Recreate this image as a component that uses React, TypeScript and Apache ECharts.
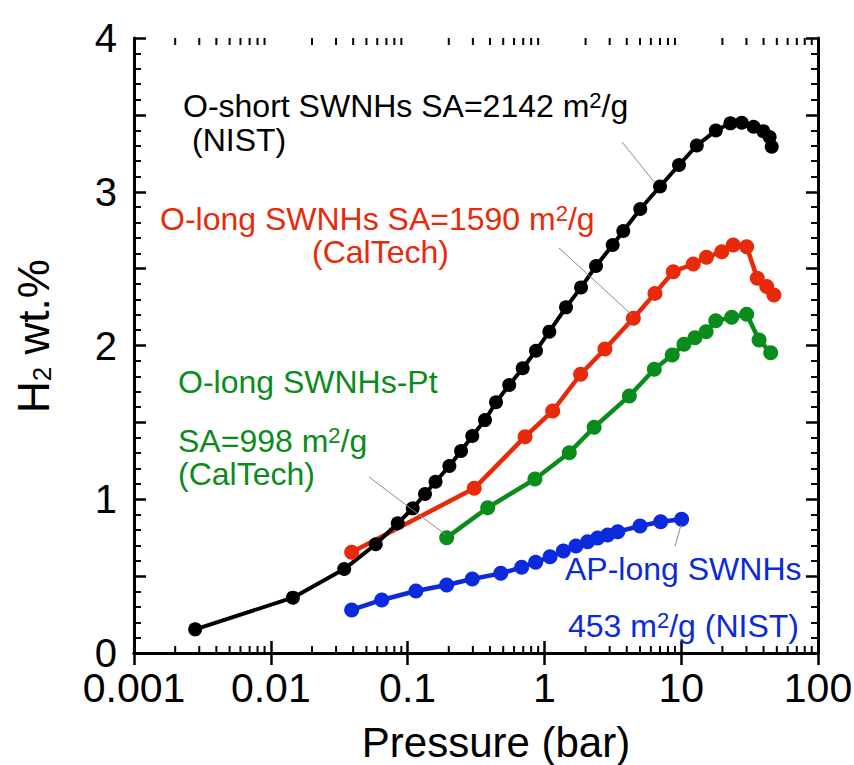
import React, { useEffect, useRef } from 'react';
import * as echarts from 'echarts';

// H2 uptake (wt.%) against pressure (bar) for four nanohorn samples
const shortPressure = [0.0028, 0.0145, 0.0344, 0.0585, 0.0847, 0.109, 0.134, 0.16, 0.202, 0.246, 0.297, 0.368, 0.443, 0.553, 0.694, 0.868, 1.086, 1.439, 1.853, 2.384, 3.157, 3.773, 5.02, 7.0, 9.64, 13.0, 17.9, 22.9, 27.7, 33.8, 39.8, 44.3, 45.9];
const shortUptake = [0.154, 0.36, 0.546, 0.707, 0.844, 0.941, 1.034, 1.114, 1.216, 1.314, 1.411, 1.515, 1.631, 1.743, 1.852, 1.966, 2.09, 2.248, 2.378, 2.517, 2.654, 2.745, 2.888, 3.034, 3.174, 3.301, 3.398, 3.445, 3.449, 3.423, 3.394, 3.356, 3.293];

const longPressure = [0.039, 0.307, 0.722, 1.15, 1.84, 2.77, 4.47, 6.43, 8.75, 12.25, 15.3, 19.8, 24.0, 30.1, 36.0, 42.2, 47.6];
const longUptake = [0.655, 1.071, 1.407, 1.574, 1.813, 1.977, 2.177, 2.339, 2.48, 2.53, 2.574, 2.61, 2.654, 2.643, 2.437, 2.383, 2.328];

const ptPressure = [0.193, 0.385, 0.853, 1.52, 2.31, 4.18, 6.36, 8.6, 10.48, 12.6, 15.2, 17.9, 23.4, 30.1, 37.1, 45.1];
const ptUptake = [0.75, 0.945, 1.132, 1.303, 1.468, 1.672, 1.845, 1.938, 2.008, 2.051, 2.09, 2.161, 2.183, 2.203, 2.036, 1.953];

const apPressure = [0.039, 0.0647, 0.115, 0.193, 0.297, 0.48, 0.682, 0.863, 1.1, 1.375, 1.7, 2.07, 2.45, 2.9, 3.44, 5.0, 7.08, 10.07];
const apUptake = [0.28, 0.345, 0.403, 0.442, 0.481, 0.518, 0.557, 0.59, 0.626, 0.663, 0.696, 0.724, 0.748, 0.767, 0.789, 0.826, 0.854, 0.87];

const xTickLabels = ['0.001', '0.01', '0.1', '1', '10', '100'];
const minorDecades = [0.001, 0.01, 0.1, 1, 10];
const minorSteps = [2, 3, 4, 5, 6, 7, 8, 9];

const FONT = '"Liberation Sans", Arial, Helvetica, sans-serif';
const BLACK = '#000000';
const RED = '#e82a0a';
const GREEN = '#0a8c1c';
const BLUE = '#0a2adc';

const zip = (xs: number[], ys: number[]) => xs.map((x, i) => [x, ys[i]]);

function annotation(x: number, y: number, text: string, color: string) {
  return {
    type: 'text',
    x,
    y,
    z: 100,
    silent: true,
    style: {
      text,
      fill: color,
      font: `32px ${FONT}`,
      verticalAlign: 'top',
      align: 'left',
      rich: {
        t: { fontSize: 32, fontFamily: FONT, fill: color, lineHeight: 32 },
        s: { fontSize: 22, fontFamily: FONT, fill: color, lineHeight: 1, verticalAlign: 'top' },
      },
    },
  };
}

function leader(x1: number, y1: number, x2: number, y2: number) {
  return {
    type: 'line',
    z: 100,
    silent: true,
    shape: { x1, y1, x2, y2 },
    style: { stroke: '#8a8a8a', lineWidth: 1 },
  };
}

export default function App() {
  const ref = useRef<HTMLDivElement>(null);

  useEffect(() => {
    if (!ref.current) return;
    const chart = echarts.init(ref.current, null, { renderer: 'svg' });

    const minorTicks = minorDecades.flatMap((d) => minorSteps.map((s) => [s * d, 1]));

    const axisLineStyle = { color: '#000', width: 3 };

    const xAxes = [0, 1].map((i) => ({
      type: 'log',
      logBase: 10,
      min: 0.001,
      max: 100,
      splitNumber: 5,
      position: i === 0 ? 'bottom' : 'top',
      axisLine: { show: true, lineStyle: axisLineStyle },
      axisTick: { show: true, inside: true, length: 12, lineStyle: { color: '#000', width: 2.5 } },
      minorTick: { show: false },
      splitLine: { show: false },
      axisLabel: {
        show: i === 0,
        margin: 19,
        fontSize: 41,
        lineHeight: 32,
        fontFamily: FONT,
        color: '#000',
        formatter: (v: number) => xTickLabels[Math.round(Math.log10(v)) + 3] ?? '',
      },
    }));

    const yAxes = [0, 1].map((i) => ({
      type: 'value',
      min: 0,
      max: 4,
      interval: 0.5,
      position: i === 0 ? 'left' : 'right',
      axisLine: { show: true, lineStyle: axisLineStyle },
      axisTick: { show: true, inside: true, length: 12, lineStyle: { color: '#000', width: 2.5 } },
      minorTick: { show: true, splitNumber: 5, length: 7, lineStyle: { color: '#000', width: 2 } },
      splitLine: { show: false },
      axisLabel: {
        show: i === 0,
        margin: 17,
        fontSize: 40,
        lineHeight: 28,
        fontFamily: FONT,
        color: '#000',
        formatter: (v: number) => (Math.abs(v - Math.round(v)) < 1e-9 ? String(Math.round(v)) : ''),
      },
    }));

    const lineSeries = (name: string, px: number[], py: number[], color: string, size: number, width: number) => ({
      name,
      type: 'line',
      xAxisIndex: 0,
      yAxisIndex: 0,
      data: zip(px, py),
      symbol: 'circle',
      symbolSize: size,
      showSymbol: true,
      itemStyle: { color },
      lineStyle: { color, width },
      z: 10,
    });

    chart.setOption({
      animation: false,
      backgroundColor: '#ffffff',
      grid: { left: 134, right: 36, top: 38, bottom: 112, containLabel: false, outerBoundsMode: 'none' },
      xAxis: xAxes,
      yAxis: yAxes,
      series: [
        {
          type: 'custom',
          xAxisIndex: 0,
          yAxisIndex: 0,
          silent: true,
          clip: false,
          data: minorTicks,
          encode: { x: 0, y: 1 },
          renderItem: (params: any, api: any) => {
            const x = api.coord([api.value(0), 1])[0];
            const cs = params.coordSys;
            const len = 7;
            const style = { stroke: '#000', lineWidth: 2 };
            return {
              type: 'group',
              children: [
                { type: 'line', shape: { x1: x, y1: cs.y + cs.height, x2: x, y2: cs.y + cs.height - len }, style },
                { type: 'line', shape: { x1: x, y1: cs.y, x2: x, y2: cs.y + len }, style },
              ],
            };
          },
        },
        lineSeries('AP-long SWNHs', apPressure, apUptake, BLUE, 15, 4.5),
        lineSeries('O-long SWNHs-Pt', ptPressure, ptUptake, GREEN, 15, 4.5),
        lineSeries('O-long SWNHs', longPressure, longUptake, RED, 15, 4.5),
        lineSeries('O-short SWNHs', shortPressure, shortUptake, BLACK, 14, 4),
      ],
      graphic: [
        annotation(183, 89.9, '{t|O-short SWNHs SA=2142 m}{s|2}{t|/g}', BLACK),
        annotation(192, 123.9, '{t|(NIST)}', BLACK),
        annotation(160, 202.9, '{t|O-long SWNHs SA=1590 m}{s|2}{t|/g}', RED),
        annotation(312, 235.5, '{t|(CalTech)}', RED),
        annotation(178, 365.9, '{t|O-long SWNHs-Pt}', GREEN),
        annotation(178, 424.9, '{t|SA=998 m}{s|2}{t|/g}', GREEN),
        annotation(178, 457.9, '{t|(CalTech)}', GREEN),
        annotation(565, 552.9, '{t|AP-long SWNHs}', BLUE),
        annotation(568, 609.9, '{t|453 m}{s|2}{t|/g (NIST)}', BLUE),
        leader(622, 142, 655, 183),
        leader(559, 248, 632, 315),
        leader(369, 477, 446, 535),
        leader(681, 525, 675, 546),
        {
          type: 'text',
          x: 33,
          y: 336,
          rotation: Math.PI / 2,
          silent: true,
          style: {
            text: '{t|H}{b|2}{t| wt.%}',
            align: 'center',
            verticalAlign: 'middle',
            fill: '#000',
            font: `44px ${FONT}`,
            rich: {
              t: { fontSize: 44, fontFamily: FONT, fill: '#000', lineHeight: 44 },
              b: { fontSize: 26, fontFamily: FONT, fill: '#000', lineHeight: 1, verticalAlign: 'bottom' },
            },
          },
        },
        {
          type: 'text',
          x: 496,
          y: 721.5,
          silent: true,
          style: {
            text: 'Pressure (bar)',
            align: 'center',
            verticalAlign: 'top',
            fill: '#000',
            font: `42px ${FONT}`,
          },
        },
      ],
    });

    return () => chart.dispose();
  }, []);

  return (
    <div
      ref={ref}
      style={{ position: 'absolute', left: 0, top: 0, width: 854, height: 765, background: '#fff' }}
    />
  );
}
